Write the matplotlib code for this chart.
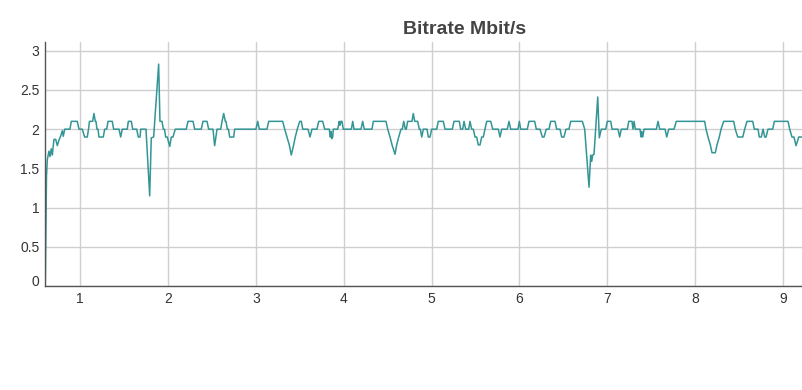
"""
Bitrate plot — single line trace of Mbit/s over time, saved as out.png.
"""

import matplotlib
matplotlib.use("Agg")
import matplotlib.pyplot as plt
from matplotlib.transforms import ScaledTranslation

# --------------------------------------------------------------------------- #
# Data
# --------------------------------------------------------------------------- #

time_s = [
    0.605, 0.619, 0.628, 0.647, 0.659, 0.673, 0.685, 0.704, 0.724, 0.742,
    0.761, 0.780, 0.799, 0.810, 0.826, 0.886, 0.901, 0.969, 0.989, 1.026,
    1.053, 1.083, 1.097, 1.108, 1.144, 1.159, 1.174, 1.182, 1.193, 1.205,
    1.216, 1.265, 1.281, 1.304, 1.319, 1.367, 1.383, 1.444, 1.463, 1.481,
    1.538, 1.550, 1.584, 1.600, 1.645, 1.663, 1.683,
    1.691, 1.751, 1.793, 1.811, 1.838, 1.895, 1.910, 1.933, 1.948, 1.961,
    1.975, 1.993, 2.021, 2.039, 2.058, 2.084, 2.209, 2.229, 2.286, 2.305,
    2.380, 2.399, 2.445, 2.464, 2.513, 2.532, 2.559, 2.601, 2.616, 2.635,
    2.653, 2.661, 2.676, 2.689, 2.703, 2.749,
    2.760, 3.002, 3.022, 3.040, 3.127, 3.147, 3.306, 3.329, 3.355, 3.381,
    3.404, 3.431, 3.449, 3.472, 3.500, 3.518, 3.534, 3.594, 3.617, 3.639,
    3.696, 3.716, 3.761, 3.784, 3.836,
    3.848, 3.856, 3.864, 3.875, 3.882, 3.932, 3.950, 3.958, 3.969, 3.981,
    3.995, 4.087, 4.103, 4.117, 4.197, 4.216, 4.234, 4.322, 4.337, 4.481,
    4.501, 4.527, 4.550, 4.584, 4.603, 4.626, 4.652, 4.667, 4.683, 4.701,
    4.712, 4.728, 4.777, 4.792, 4.808, 4.842, 4.860, 4.872, 4.888, 4.906,
    4.948, 4.963, 4.982, 5.001, 5.058, 5.076, 5.133, 5.153, 5.236, 5.255,
    5.315, 5.331, 5.354, 5.369, 5.388, 5.422, 5.437, 5.456, 5.475, 5.494,
    5.513, 5.531, 5.551, 5.570, 5.588, 5.608, 5.627, 5.673, 5.695, 5.759,
    5.778, 5.798, 5.861, 5.881, 5.900, 5.983,
    5.998, 6.014, 6.089, 6.108, 6.173, 6.191, 6.233, 6.260, 6.279, 6.305,
    6.336, 6.355, 6.404, 6.423, 6.461, 6.480, 6.506, 6.529, 6.563, 6.583,
    6.715, 6.742, 6.791, 6.810, 6.822, 6.833, 6.848, 6.890, 6.908, 6.931,
    6.981, 6.999, 7.038,
    7.053, 7.121, 7.140, 7.158, 7.227, 7.243, 7.280, 7.291, 7.303, 7.318,
    7.371, 7.383, 7.391, 7.402, 7.417, 7.557, 7.576, 7.595, 7.656, 7.675,
    7.698, 7.758, 7.784, 8.107,
    8.122, 8.145, 8.171, 8.190, 8.228, 8.247, 8.273, 8.293, 8.323, 8.437,
    8.455, 8.483, 8.540, 8.562, 8.588, 8.653, 8.672, 8.714, 8.728, 8.751,
    8.771, 8.790, 8.805, 8.827, 8.881, 8.899, 9.055, 9.074, 9.100, 9.123,
    9.146, 9.177, 9.250,
]

bitrate_mbit = [
    0.00, 1.40, 1.61, 1.72, 1.65, 1.75, 1.67, 1.87, 1.87, 1.79,
    1.86, 1.91, 1.98, 1.91, 2.00, 2.00, 2.10, 2.10, 2.00, 2.00,
    1.90, 1.90, 2.00, 2.10, 2.10, 2.20, 2.10, 2.10, 2.00, 2.00,
    1.90, 1.90, 2.00, 2.00, 2.10, 2.10, 2.00, 2.00, 1.90, 2.00,
    2.00, 2.10, 2.10, 2.00, 2.00, 1.90, 1.90,
    2.00, 2.00, 1.15, 1.89, 1.90, 2.83, 2.10, 2.10, 2.00, 2.00,
    1.90, 1.90, 1.78, 1.90, 1.90, 2.00, 2.00, 2.10, 2.10, 2.00,
    2.00, 2.10, 2.10, 2.00, 2.00, 1.79, 2.00, 2.00, 2.10, 2.20,
    2.10, 2.10, 2.00, 2.00, 1.90, 1.90,
    2.00, 2.00, 2.10, 2.00, 2.00, 2.10, 2.10, 2.00, 1.90, 1.80,
    1.67, 1.80, 1.90, 2.00, 2.10, 2.10, 2.00, 2.00, 1.90, 2.00,
    2.00, 2.10, 2.10, 2.00, 2.00,
    1.90, 1.97, 1.88, 1.90, 2.00, 2.00, 2.10, 2.05, 2.10, 2.10,
    2.00, 2.00, 2.10, 2.00, 2.00, 2.10, 2.00, 2.00, 2.10, 2.10,
    2.00, 1.90, 1.80, 1.68, 1.80, 1.90, 2.00, 2.00, 2.10, 2.00,
    2.00, 2.10, 2.10, 2.20, 2.10, 2.10, 2.00, 2.00, 1.90, 2.00,
    2.00, 1.90, 1.90, 2.00, 2.00, 2.10, 2.10, 2.00, 2.00, 2.10,
    2.10, 2.00, 2.00, 2.10, 2.00, 2.00, 2.10, 2.00, 2.00, 1.90,
    1.90, 1.80, 1.80, 1.90, 1.90, 2.00, 2.10, 2.10, 2.00, 2.00,
    1.90, 2.00, 2.00, 2.10, 2.00, 2.00,
    2.10, 2.00, 2.00, 2.10, 2.10, 2.00, 2.00, 1.90, 1.90, 2.00,
    2.00, 2.10, 2.10, 2.00, 2.00, 1.90, 1.90, 2.00, 2.00, 2.10,
    2.10, 2.00, 1.26, 1.67, 1.59, 1.67, 1.68, 2.41, 1.89, 2.00,
    2.00, 2.10, 2.10,
    2.00, 2.00, 1.90, 2.00, 2.00, 2.10, 2.10, 2.00, 2.10, 2.00,
    2.00, 1.90, 1.97, 1.90, 2.00, 2.00, 2.10, 2.00, 2.00, 1.90,
    2.00, 2.00, 2.10, 2.10,
    2.00, 1.90, 1.80, 1.70, 1.70, 1.80, 1.90, 2.00, 2.10, 2.10,
    2.00, 1.90, 1.90, 2.00, 2.10, 2.10, 2.00, 2.00, 1.90, 1.90,
    2.00, 1.90, 1.90, 2.00, 2.00, 2.10, 2.10, 2.00, 1.90, 1.90,
    1.79, 1.90, 1.90,
]

x_ticks = [1, 2, 3, 4, 5, 6, 7, 8, 9]
y_ticks = [0, 0.5, 1, 1.5, 2, 2.5, 3]
y_tick_labels = ["0", "0.5", "1", "1.5", "2", "2.5", "3"]

# --------------------------------------------------------------------------- #
# Figure
# --------------------------------------------------------------------------- #

plt.rcParams["font.family"] = ["Liberation Sans", "DejaVu Sans"]

fig = plt.figure(figsize=(8.02, 3.90), dpi=100)
ax = fig.add_axes([45 / 802, 104 / 390, 757 / 802, 244 / 390])

ax.plot(time_s, bitrate_mbit, color="#339595", linewidth=1.1)

ax.set_xlim(0.602, 9.214)
ax.set_ylim(0, 3.112)
ax.set_xticks(x_ticks)
ax.set_yticks(y_ticks)
ax.set_yticklabels(y_tick_labels)

ax.grid(True, color="#cfcfcf", linewidth=1.0)
ax.set_axisbelow(True)
ax.tick_params(length=0, pad=4, labelsize=10, colors="#333333")

for side in ("top", "right"):
    ax.spines[side].set_visible(False)
for side in ("left", "bottom"):
    ax.spines[side].set_color("#555555")
    ax.spines[side].set_linewidth(1.0)

# lift the "0" label a little off the x axis line
zero_lbl = ax.get_yticklabels()[0]
zero_lbl.set_transform(
    zero_lbl.get_transform() + ScaledTranslation(0, 5 / 100, fig.dpi_scale_trans)
)

fig.text(465 / 802, 1 - 29 / 390, "Bitrate Mbit/s", ha="center", va="center",
         fontsize=14, fontweight="bold", color="#444444")

fig.savefig("out.png", dpi=100)
plt.close(fig)
